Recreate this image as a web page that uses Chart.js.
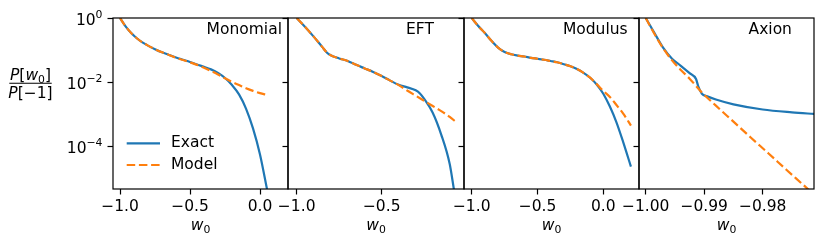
<!DOCTYPE html>
<html><head><meta charset="utf-8">
<script src="https://cdn.jsdelivr.net/npm/chart.js@4/dist/chart.umd.min.js"></script>
<style>
html,body{margin:0;padding:0;background:#fff;}
#wrap{position:relative;width:831px;height:248px;background:#fff;}
#wrap canvas{position:absolute;left:0;top:0;}
</style></head><body>
<div id="wrap">
<canvas id="c0" width="831" height="248"></canvas>
<canvas id="c1" width="831" height="248"></canvas>
<canvas id="c2" width="831" height="248"></canvas>
<canvas id="c3" width="831" height="248"></canvas>
</div>
<script>
// ---------------- data ----------------
const PANEL_NAMES = ['Monomial', 'EFT', 'Modulus', 'Axion'];
const SERIES_NAMES = ['Exact', 'Model'];

const Y_TICKS = [1, 1e-2, 1e-4];
const Y_TICK_EXPONENTS = ['0', '\u22122', '\u22124'];
const Y_MIN = 4.71e-6, Y_MAX = 1;

// Monomial
const monoExactW = [-1.00, -0.96, -0.92, -0.88, -0.84, -0.80, -0.75, -0.70, -0.65, -0.60, -0.55, -0.50, -0.45, -0.40, -0.35, -0.30, -0.25, -0.20, -0.15, -0.10, -0.05, 0.00, 0.05];
const monoExactP = [1, 0.55, 0.339, 0.234, 0.174, 0.138, 0.107, 0.0851, 0.0708, 0.0589, 0.0501, 0.0427, 0.0355, 0.0302, 0.0251, 0.0195, 0.0135, 0.00813, 0.00417, 0.00151, 3.63e-4, 5.62e-5, 4.68e-6];
const monoModelW = [-1.00, -0.96, -0.92, -0.88, -0.84, -0.80, -0.75, -0.70, -0.65, -0.60, -0.55, -0.50, -0.45, -0.40, -0.35, -0.30, -0.25, -0.20, -0.15, -0.10, -0.05, 0.00, 0.05];
const monoModelP = [1, 0.55, 0.339, 0.234, 0.174, 0.138, 0.107, 0.0851, 0.0708, 0.0575, 0.0490, 0.0417, 0.0347, 0.0282, 0.0224, 0.0174, 0.0132, 0.0102, 0.00813, 0.00646, 0.00537, 0.00457, 0.00398];

// EFT
const eftExactW = [-1.00, -0.95, -0.90, -0.85, -0.82, -0.80, -0.75, -0.70, -0.65, -0.60, -0.55, -0.50, -0.45, -0.40, -0.35, -0.30, -0.275, -0.25, -0.20, -0.15, -0.10, -0.075];
const eftExactP = [1, 0.525, 0.263, 0.126, 0.0813, 0.0692, 0.0550, 0.0457, 0.0347, 0.0269, 0.0209, 0.0155, 0.0112, 0.00832, 0.00692, 0.00562, 0.00447, 0.00302, 0.00112, 2.34e-4, 2.82e-5, 4.47e-6];
const eftModelW = [-1.00, -0.95, -0.90, -0.85, -0.82, -0.80, -0.75, -0.70, -0.65, -0.60, -0.55, -0.50, -0.45, -0.40, -0.35, -0.30, -0.25, -0.20, -0.15, -0.10, -0.06];
const eftModelP = [1, 0.525, 0.263, 0.126, 0.0813, 0.0692, 0.0550, 0.0457, 0.0347, 0.0269, 0.0209, 0.0155, 0.0112, 0.00813, 0.00550, 0.00380, 0.00263, 0.00182, 0.00126, 8.32e-4, 5.62e-4];

// Modulus
const modExactW = [-1.00, -0.95, -0.90, -0.85, -0.80, -0.75, -0.70, -0.65, -0.60, -0.55, -0.50, -0.45, -0.40, -0.35, -0.30, -0.25, -0.20, -0.15, -0.10, -0.05, 0.00, 0.05, 0.10, 0.15, 0.21];
const modExactP = [1, 0.562, 0.339, 0.195, 0.120, 0.0871, 0.0741, 0.0676, 0.0631, 0.0575, 0.0537, 0.0501, 0.0457, 0.0417, 0.0363, 0.0316, 0.0257, 0.0195, 0.0138, 0.00851, 0.00437, 0.00174, 5.62e-4, 1.41e-4, 2.34e-5];
const modModelW = [-1.00, -0.95, -0.90, -0.85, -0.80, -0.75, -0.70, -0.65, -0.60, -0.55, -0.50, -0.45, -0.40, -0.35, -0.30, -0.25, -0.20, -0.15, -0.10, -0.05, 0.00, 0.05, 0.10, 0.15, 0.21];
const modModelP = [1, 0.562, 0.339, 0.195, 0.120, 0.0871, 0.0741, 0.0676, 0.0631, 0.0575, 0.0537, 0.0501, 0.0457, 0.0417, 0.0363, 0.0316, 0.0257, 0.0195, 0.0138, 0.00871, 0.00537, 0.00347, 0.00195, 0.00107, 4.47e-4];

// Axion
const axExactW = [-1.0000, -0.9985, -0.9970, -0.9955, -0.9940, -0.9925, -0.9914, -0.9910, -0.9904, -0.9895, -0.9880, -0.9850, -0.9800, -0.9750, -0.9710];
const axExactP = [1, 0.339, 0.117, 0.0537, 0.0324, 0.0191, 0.0126, 0.00724, 0.00437, 0.00363, 0.00288, 0.00204, 0.00141, 0.00115, 0.00102];
const axModelW = [-1.0000, -0.9985, -0.9970, -0.9955, -0.9940, -0.9925, -0.9904, -0.9880, -0.9850, -0.9820, -0.9790, -0.9760, -0.9730, -0.9710];
const axModelP = [1, 0.316, 0.112, 0.0479, 0.0240, 0.0129, 0.00479, 0.00186, 5.89e-4, 1.86e-4, 6.03e-5, 1.91e-5, 6.17e-6, 2.88e-6];

// x axis ranges and ticks per panel
const X_RANGES = [[-1.05, 0.2], [-1.051, -0.016], [-1.0585, 0.2713], [-1.00115, -0.97123]];
const X_TICKS = [[-1.0, -0.5, 0.0], [-1.0, -0.5], [-1.0, -0.5, 0.0], [-1.00, -0.99, -0.98]];
const X_DECIMALS = [1, 1, 1, 2];

// ---------------- layout / style ----------------
const FONT = '"DejaVu Sans", sans-serif';
const FS = 15.5;
const SUB = 0.7;
const BLUE = '#1f77b4', ORANGE = '#ff7f0e';
const PANEL_LEFT = [113, 288, 464, 639];
const PANEL_RIGHT = [288, 464, 639, 814];
const AREA_TOP = 18, AREA_BOTTOM = 189;
const CW = 831, CH = 248;

function fmtX(v, d) {
  const s = Math.abs(v).toFixed(d);
  return (v < -1e-9 ? '\u2212' : '') + s;
}

function segFont(s) {
  return (s.it ? 'italic ' : '') + (s.small ? FS * SUB : FS) + 'px ' + FONT;
}

// draws a run of text pieces; align: 'center' or 'right'
function drawRich(ctx, segs, x, baseline, align) {
  const widths = segs.map(s => { ctx.font = segFont(s); return ctx.measureText(s.t).width; });
  const total = widths.reduce((a, b) => a + b, 0);
  let cx = align === 'right' ? x - total : x - total / 2;
  ctx.textAlign = 'left';
  ctx.textBaseline = 'alphabetic';
  segs.forEach((s, i) => {
    ctx.font = segFont(s);
    ctx.fillText(s.t, cx, baseline + (s.dy || 0));
    cx += widths[i];
  });
}

function makePlugin(idx) {
  return {
    id: 'deco' + idx,
    afterDraw(chart) {
      const ctx = chart.ctx;
      const a = chart.chartArea;
      ctx.save();
      // frame
      ctx.strokeStyle = '#000';
      ctx.lineWidth = 1.2;
      ctx.strokeRect(a.left, a.top, a.right - a.left, a.bottom - a.top);
      ctx.fillStyle = '#000';
      // panel title
      ctx.font = FS + 'px ' + FONT;
      ctx.textAlign = 'center';
      ctx.textBaseline = 'middle';
      ctx.fillText(PANEL_NAMES[idx], a.left + 0.75 * (a.right - a.left), 30);
      // x-axis title w_0
      drawRich(ctx, [{t: 'w', it: true}, {t: '0', small: true, dy: 3.3}], (a.left + a.right) / 2, 230, 'center');
      if (idx === 0) {
        // y tick labels 10^k
        const ys = chart.scales.y;
        Y_TICKS.forEach((v, i) => {
          const py = ys.getPixelForValue(v);
          drawRich(ctx, [{t: '10'}, {t: Y_TICK_EXPONENTS[i], small: true, dy: -6.6}], 102.5, py + 6.6, 'right');
        });
        // legend
        const lx0 = 126.7, lx1 = 160, rows = [143.3, 165];
        ctx.lineWidth = 2.2;
        ctx.strokeStyle = BLUE;
        ctx.setLineDash([]);
        ctx.beginPath(); ctx.moveTo(lx0, rows[0]); ctx.lineTo(lx1, rows[0]); ctx.stroke();
        ctx.strokeStyle = ORANGE;
        ctx.setLineDash([8.5, 3.7]);
        ctx.beginPath(); ctx.moveTo(lx0, rows[1]); ctx.lineTo(lx1, rows[1]); ctx.stroke();
        ctx.setLineDash([]);
        ctx.font = FS + 'px ' + FONT;
        ctx.textAlign = 'left';
        ctx.textBaseline = 'middle';
        ctx.fillText(SERIES_NAMES[0], 171, rows[0]);
        ctx.fillText(SERIES_NAMES[1], 171, rows[1]);
        // y-axis label as a fraction
        const cx = 30.5;
        drawRich(ctx, [{t: 'P', it: true}, {t: '['}, {t: 'w', it: true}, {t: '0', small: true, dy: 3}, {t: ']'}], cx, 79.5, 'center');
        ctx.strokeStyle = '#000';
        ctx.lineWidth = 1.1;
        ctx.beginPath(); ctx.moveTo(9.3, 83.3); ctx.lineTo(51.7, 83.3); ctx.stroke();
        drawRich(ctx, [{t: 'P', it: true}, {t: '[\u22121]'}], cx, 98.3, 'center');
      }
      ctx.restore();
    }
  };
}

function pts(ws, ps) { return ws.map((w, i) => ({x: w, y: ps[i]})); }

function makeChart(idx, exactW, exactP, modelW, modelP) {
  const yW = idx === 0 ? 100 : 10;
  const xH = 55;
  const gridOpts = {drawOnChartArea: false, drawTicks: true, tickLength: 5.5, tickWidth: 1.2, tickColor: '#000', color: '#000'};
  return new Chart(document.getElementById('c' + idx), {
    type: 'line',
    data: {
      datasets: [
        {label: SERIES_NAMES[0], data: pts(exactW, exactP), borderColor: BLUE, backgroundColor: BLUE,
         borderWidth: 2.2, pointRadius: 0, cubicInterpolationMode: 'monotone', order: 2, clip: 0, fill: false},
        {label: SERIES_NAMES[1], data: pts(modelW, modelP), borderColor: ORANGE, backgroundColor: ORANGE,
         borderWidth: 2.2, borderDash: [8.5, 3.7], pointRadius: 0, cubicInterpolationMode: 'monotone', order: 1, clip: 0, fill: false}
      ]
    },
    options: {
      responsive: false, animation: false, devicePixelRatio: 1, events: [],
      layout: {padding: {left: PANEL_LEFT[idx] - yW, right: CW - PANEL_RIGHT[idx], top: AREA_TOP, bottom: CH - AREA_BOTTOM - xH}},
      plugins: {legend: {display: false}, tooltip: {enabled: false}, title: {display: false}},
      scales: {
        x: {
          type: 'linear', min: X_RANGES[idx][0], max: X_RANGES[idx][1],
          afterBuildTicks: s => { s.ticks = X_TICKS[idx].map(v => ({value: v})); },
          afterFit: s => { s.height = xH; },
          grid: gridOpts, border: {display: false},
          ticks: {autoSkip: false, maxRotation: 0, minRotation: 0, padding: 3.5, color: '#000',
                  font: {family: FONT, size: FS}, callback: v => fmtX(v, X_DECIMALS[idx])},
          title: {display: false}
        },
        y: {
          type: 'logarithmic', min: Y_MIN, max: Y_MAX,
          afterBuildTicks: s => { s.ticks = Y_TICKS.map(v => ({value: v})); },
          afterFit: s => { s.width = yW; },
          grid: gridOpts, border: {display: false},
          ticks: {display: false}
        }
      }
    },
    plugins: [makePlugin(idx)]
  });
}

makeChart(0, monoExactW, monoExactP, monoModelW, monoModelP);
makeChart(1, eftExactW, eftExactP, eftModelW, eftModelP);
makeChart(2, modExactW, modExactP, modModelW, modModelP);
makeChart(3, axExactW, axExactP, axModelW, axModelP);
</script>
</body></html>
